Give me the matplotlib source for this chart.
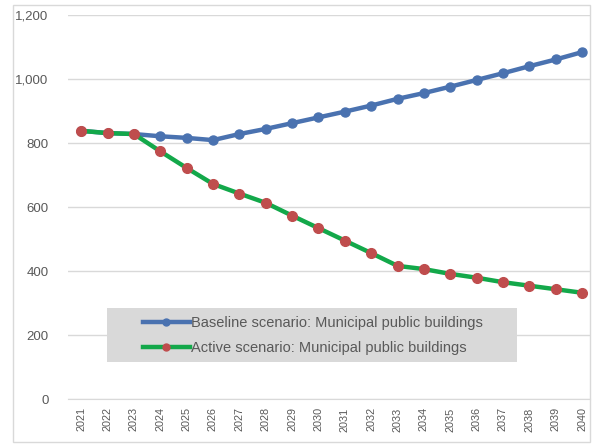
import matplotlib
matplotlib.use("Agg")
import matplotlib.pyplot as plt
from matplotlib.patches import Rectangle
from matplotlib.ticker import FuncFormatter

years = [str(y) for y in range(2021, 2041)]
baseline = [838, 831, 828, 821, 816, 809, 828, 844, 862, 880,
            898, 917, 938, 956, 976, 997, 1018, 1040, 1061, 1084]
active = [838, 831, 828, 774, 722, 672, 642, 613, 573, 534,
          495, 456, 416, 406, 391, 379, 365, 354, 343, 332]
series_names = ["Baseline scenario: Municipal public buildings",
                "Active scenario: Municipal public buildings"]

plt.rcParams["font.family"] = ["Liberation Sans", "DejaVu Sans"]
text_grey = "#595959"

fig = plt.figure(figsize=(5.94, 4.45), dpi=100)
ax = fig.add_axes([68 / 594, 1 - 399 / 445, 522 / 594, 384 / 445])

# outer chart border
fig.patches.append(Rectangle((13 / 594, 1 - 442 / 445), 577 / 594, 437 / 445,
                             transform=fig.transFigure, fill=False,
                             edgecolor="#d9d9d9", linewidth=1.0))

x = list(range(len(years)))
ax.plot(x, baseline, color="#4a72b0", linewidth=3.2, marker="o",
        markersize=6.5, markerfacecolor="#4a72b0", markeredgecolor="#4a72b0",
        label=series_names[0], zorder=3)
ax.plot(x, active, color="#13a84a", linewidth=3.2, marker="o",
        markersize=7, markerfacecolor="#bf4d4d", markeredgecolor="#bf4d4d",
        label=series_names[1], zorder=4)

ax.set_xlim(-0.5, 19.3)
ax.set_ylim(0, 1200)
ax.set_yticks(range(0, 1201, 200))
ax.yaxis.set_major_formatter(FuncFormatter(lambda v, p: f"{int(v):,}"))
ax.set_xticks(x)
ax.set_xticklabels(years, rotation=90, fontsize=7.8, color=text_grey)
ax.tick_params(axis="y", length=0, pad=14, labelsize=9.5, labelcolor=text_grey)
ax.tick_params(axis="x", length=0, pad=6)
ax.grid(axis="y", color="#d9d9d9", linewidth=1.0)
ax.set_axisbelow(True)
for side in ["top", "right", "left"]:
    ax.spines[side].set_visible(False)
ax.spines["bottom"].set_color("#d9d9d9")

# grey legend panel
ax.add_patch(Rectangle((0.0747, 0.096), 0.785, 0.141, transform=ax.transAxes,
                       facecolor="#d9d9d9", edgecolor="none", zorder=5))
leg = ax.legend(loc="center left", bbox_to_anchor=(0.1437, 0.1658),
                fontsize=10.5, frameon=False, handlelength=3.2,
                handletextpad=0.1, borderpad=0, labelspacing=0.75,
                borderaxespad=0)
leg.set_zorder(6)
for h in leg.legend_handles:
    h.set_markersize(5)
for t in leg.get_texts():
    t.set_color(text_grey)

fig.savefig("out.png", dpi=100)
